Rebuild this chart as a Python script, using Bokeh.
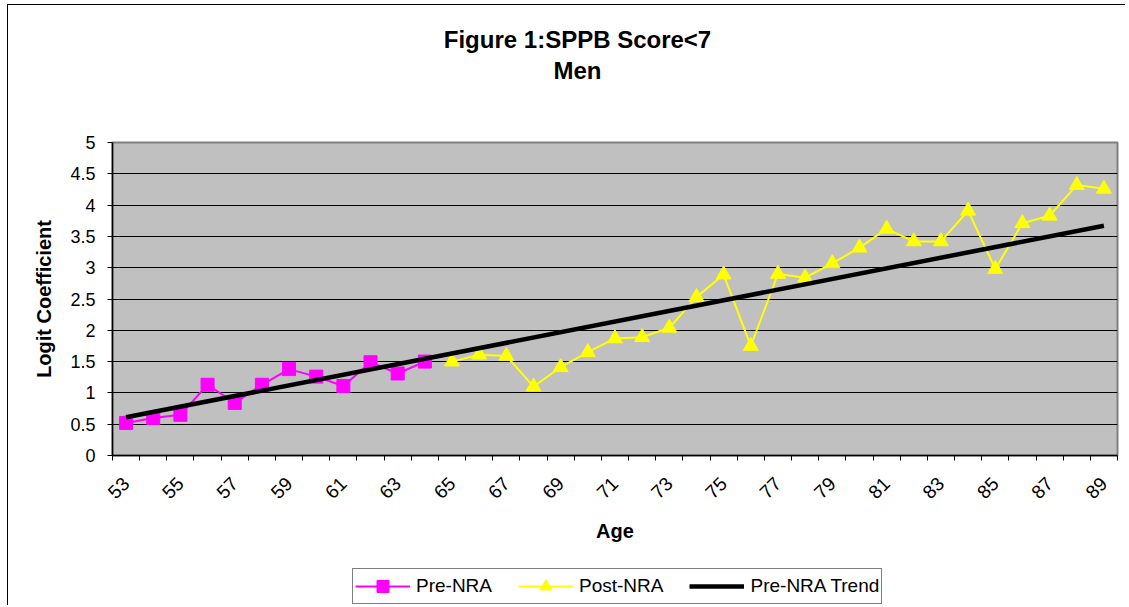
from bokeh.plotting import figure
from bokeh.layouts import column
from bokeh.models import FixedTicker, Legend, LegendItem, NumeralTickFormatter, Label
from bokeh.embed import file_html
from bokeh.resources import INLINE

# ---- data ----
ages_pre = [53, 54, 55, 56, 57, 58, 59, 60, 61, 62, 63, 64]
pre_nra = [0.52, 0.60, 0.65, 1.13, 0.84, 1.13, 1.38, 1.26, 1.11, 1.49, 1.31, 1.50]

ages_post = [65, 66, 67, 68, 69, 70, 71, 72, 73, 74, 75, 76, 77,
             78, 79, 80, 81, 82, 83, 84, 85, 86, 87, 88, 89]
post_nra = [1.50, 1.61, 1.59, 1.10, 1.41, 1.65, 1.87, 1.89, 2.04, 2.53, 2.89, 1.75, 2.90,
            2.84, 3.07, 3.32, 3.62, 3.42, 3.42, 3.91, 2.98, 3.71, 3.83, 4.32, 4.26]

trend_ages = [53, 89]
trend_vals = [0.61, 3.67]

x_ticks = [53, 55, 57, 59, 61, 63, 65, 67, 69, 71, 73, 75, 77, 79, 81, 83, 85, 87, 89]
x_bounds = [52.5 + i for i in range(38)]
y_ticks = [0, 0.5, 1, 1.5, 2, 2.5, 3, 3.5, 4, 4.5, 5]

title_line1 = "Figure 1:SPPB Score<7"
title_line2 = "Men"

FONT = "Liberation Sans"
W = 1125
FRAME_L, FRAME_R = 112, 1117   # frames of the stacked figures are aligned
LEFT_LINE = "linear-gradient(#000,#000) 7px 0 / 1px 100% no-repeat, white"

# ---------- title strip ----------
p_top = figure(width=W, height=100, output_backend="svg", toolbar_location=None,
               x_range=(FRAME_L, FRAME_R), y_range=(100, 0), min_border=0,
               x_axis_location=None, y_axis_location=None, title_location=None)
p_top.grid.visible = False
p_top.outline_line_color = None
p_top.background_fill_color = None
p_top.border_fill_color = None
p_top.styles = {
    "background": "linear-gradient(#000,#000) 7px 4px / 1px 100% no-repeat, "
                  "linear-gradient(#000,#000) 7px 4px / 100% 1px no-repeat, white"
}
for txt, ty in ((title_line1, 39), (title_line2, 70)):
    p_top.add_layout(Label(x=577, y=ty, text=txt, text_align="center",
                           text_baseline="middle", text_font=FONT,
                           text_font_size="24px", text_font_style="bold",
                           text_color="black"))

# ---------- main chart ----------
p = figure(width=W, height=460, output_backend="svg", toolbar_location=None,
           x_range=(52.5, 89.5), y_range=(0, 5), title_location=None,
           min_border_left=FRAME_L, min_border_right=W - FRAME_R, min_border_top=42,
           min_border_bottom=105)

p.background_fill_color = "#C0C0C0"
p.border_fill_color = None
p.outline_line_color = "#808080"
p.outline_line_width = 2
p.styles = {"background": LEFT_LINE}

p.xgrid.grid_line_color = None
p.ygrid.ticker = FixedTicker(ticks=y_ticks)
p.ygrid.grid_line_color = "black"
p.ygrid.grid_line_width = 1

p.yaxis.ticker = FixedTicker(ticks=y_ticks)
p.yaxis.formatter = NumeralTickFormatter(format="0.[0]")
p.yaxis.axis_label = "Logit Coefficient"
p.yaxis.axis_label_text_font = FONT
p.yaxis.axis_label_text_font_style = "bold"
p.yaxis.axis_label_text_font_size = "20px"
p.yaxis.axis_label_text_color = "black"
p.yaxis.axis_label_standoff = 12
p.yaxis.major_label_text_font = FONT
p.yaxis.major_label_text_font_size = "18px"
p.yaxis.major_label_text_color = "black"
p.yaxis.major_label_standoff = 12
p.yaxis.major_tick_out = 5
p.yaxis.major_tick_in = 0
p.yaxis.minor_tick_out = 0
p.yaxis.minor_tick_in = 0
p.yaxis.axis_line_color = "black"
p.yaxis.axis_line_width = 1.5

p.xaxis.ticker = FixedTicker(ticks=x_ticks, minor_ticks=x_bounds)
p.xaxis.axis_label = "Age"
p.xaxis.axis_label_text_font = FONT
p.xaxis.axis_label_text_font_style = "bold"
p.xaxis.axis_label_text_font_size = "20px"
p.xaxis.axis_label_text_color = "black"
p.xaxis.axis_label_standoff = 12
p.xaxis.major_label_text_font = FONT
p.xaxis.major_label_text_font_size = "19px"
p.xaxis.major_label_text_color = "black"
p.xaxis.major_label_orientation = 0.785398
p.xaxis.major_label_standoff = 20
p.xaxis.major_tick_out = 0
p.xaxis.major_tick_in = 0
p.xaxis.minor_tick_out = 5
p.xaxis.minor_tick_in = 0
p.xaxis.minor_tick_line_color = "black"
p.xaxis.axis_line_color = "black"
p.xaxis.axis_line_width = 1.5

PRE_STYLE = dict(line_color="#FF00FF", line_width=2)
PRE_MARK = dict(marker="square", size=13, fill_color="#FF00FF", line_color="#FF00FF")
POST_STYLE = dict(line_color="#FFFF00", line_width=2)
POST_MARK = dict(marker="triangle", size=15, fill_color="#FFFF00", line_color="#FFFF00")
TREND_STYLE = dict(line_color="black", line_width=4.5)

p.line(ages_pre, pre_nra, **PRE_STYLE)
p.scatter(ages_pre, pre_nra, **PRE_MARK)
p.line(ages_post, post_nra, **POST_STYLE)
p.scatter(ages_post, post_nra, **POST_MARK)
p.line(trend_ages, trend_vals, **TREND_STYLE)

# ---------- legend strip (series drawn out of view, only their legend shows) ----------
p_leg = figure(width=W, height=45, output_backend="svg", toolbar_location=None,
               x_range=(0, 1), y_range=(0, 1), min_border=0,
               x_axis_location=None, y_axis_location=None, title_location=None)
p_leg.grid.visible = False
p_leg.outline_line_color = None
p_leg.background_fill_color = None
p_leg.border_fill_color = None
p_leg.styles = {"background": LEFT_LINE}

lg_pre_l = p_leg.line(ages_pre, pre_nra, **PRE_STYLE)
lg_pre_m = p_leg.scatter(ages_pre, pre_nra, **PRE_MARK)
lg_post_l = p_leg.line(ages_post, post_nra, **POST_STYLE)
lg_post_m = p_leg.scatter(ages_post, post_nra, **POST_MARK)
lg_trend = p_leg.line(trend_ages, trend_vals, **TREND_STYLE)

legend = Legend(items=[
    LegendItem(label="Pre-NRA", renderers=[lg_pre_l, lg_pre_m]),
    LegendItem(label="Post-NRA", renderers=[lg_post_l, lg_post_m]),
    LegendItem(label="Pre-NRA Trend", renderers=[lg_trend]),
], orientation="horizontal", location=(352 - FRAME_L, 1))
legend.label_text_font = FONT
legend.label_text_font_size = "19px"
legend.label_text_color = "black"
legend.border_line_color = "black"
legend.border_line_width = 1
legend.background_fill_color = "white"
legend.background_fill_alpha = 1
legend.glyph_width = 55
legend.glyph_height = 30
legend.label_height = 30
legend.label_standoff = 6
legend.spacing = 26
legend.padding = 2
legend.margin = 0
p_leg.add_layout(legend, "center")

open("out.html", "w").write(file_html(column(p_top, p, p_leg), INLINE))
